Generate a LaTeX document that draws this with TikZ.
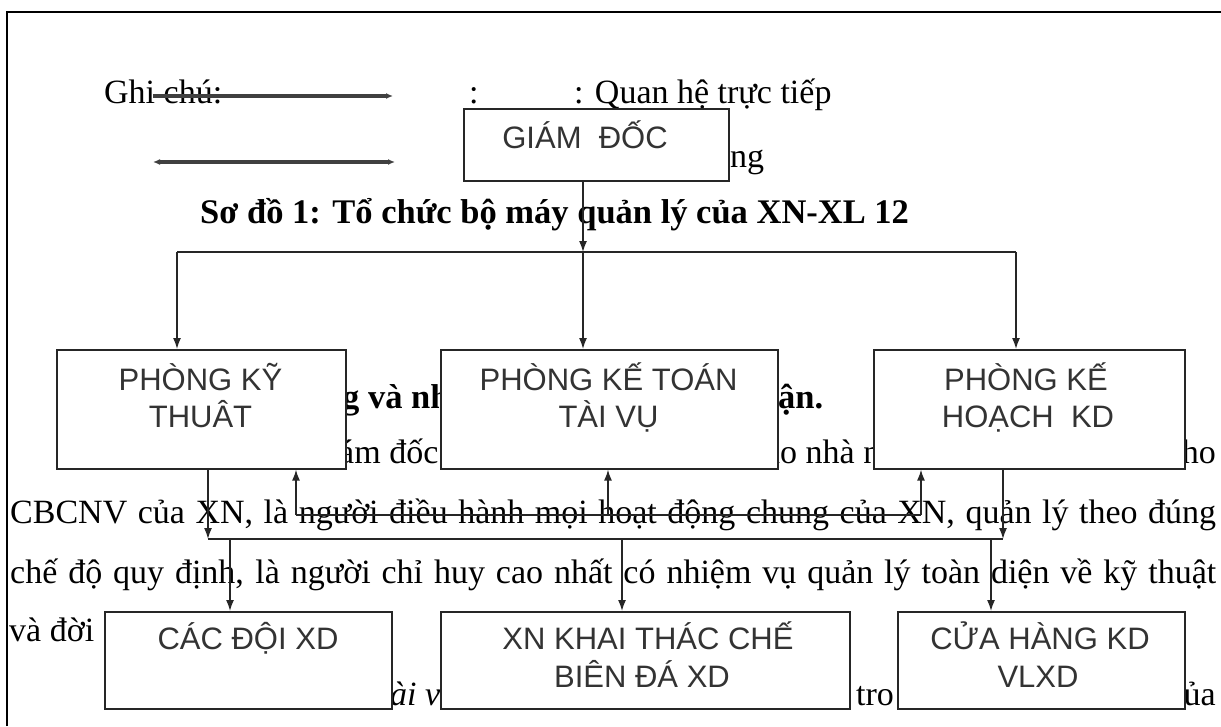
\documentclass[tikz,border=0pt]{standalone}
\usepackage{fontspec}
\setmainfont{Liberation Serif}
\newfontfamily\arialf{Liberation Sans}
\usetikzlibrary{arrows.meta,calc}
\begin{document}
\begin{tikzpicture}[x=1pt,y=-1pt,
  body/.style={font=\fontsize{34}{40}\selectfont, inner sep=0pt, anchor=base west},
  bodyb/.style={body, font=\fontsize{34.5}{40}\selectfont\bfseries},
  bodyi/.style={body, font=\fontsize{34}{40}\selectfont\itshape},
  box/.style={draw=black!85, line width=1.6pt, fill=white, inner sep=0pt, anchor=north west},
  btext/.style={font=\arialf\fontsize{31}{36}\selectfont, text=black!80, inner sep=0pt, anchor=base},
  conn/.style={draw=black!85, line width=1.5pt},
  arr/.style={conn, -{Latex[length=11pt,width=8pt]}},
  leg/.style={draw=black!75, line width=3.2pt},
  legtip/.tip={Latex[length=7pt,width=6pt]},
]
\useasboundingbox (0,0) rectangle (1221,726);
\fill[white] (0,0) rectangle (1221,726);

% frame
\coordinate (fbl) at (7,726);
\coordinate (ftl) at (7,12);
\coordinate (ftr) at (1221,12);
\draw[line width=1.6pt] (fbl) -- (ftl) -- (ftr);

% legend and title
\node[body] (ghichu) at (104,103) {Ghi chú:};
\node[body] (colon1) at (469,103) {:};
\node[body] (qh) at (574,103) {: Quan hệ trực tiếp};
\node[body] (ng) at (730,167) {ng};
\node[bodyb] (title) at (200,223) {Sơ đồ 1: Tổ chức bộ máy quản lý của XN-XL 12};

\coordinate (l1a) at (153,96); \coordinate (l1b) at (393,96);
\coordinate (l2a) at (153,162); \coordinate (l2b) at (395,162);
\draw[leg, -legtip] (l1a) -- (l1b);
\draw[leg, legtip-legtip] (l2a) -- (l2b);

% background text
\node[bodyb] (h1) at (342,408) {g và nh};
\node[bodyb] (h2) at (778,408) {ận.};
\node[body] (a1) at (339,463) {ám đốc};
\node[body] (a2) at (763,463) {ho nhà n};
\node[body, anchor=base east] (a3) at (1216,463) {ho};
\node[body] (p1) at (10,523) {\makebox[1206pt][s]{CBCNV của XN, là người điều hành mọi hoạt động chung của XN, quản lý theo đúng}};
\node[body] (p2) at (10,583) {\makebox[1206pt][s]{chế độ quy định, là người chỉ huy cao nhất có nhiệm vụ quản lý toàn diện về kỹ thuật}};
\node[body] (p3) at (9,641) {và đời};
\node[bodyi] (p4) at (390,705) {ài v};
\node[body] (p5) at (856,705) {tro};
\node[body, anchor=base east] (p6) at (1216,705) {ủa};

% boxes
\node[box, minimum width=265pt, minimum height=72pt] (gd) at (463,108) {};
\node[btext] (gdt) at (585,148) {GIÁM\ \ ĐỐC};

\node[box, minimum width=289pt, minimum height=119pt] (kt) at (56,349) {};
\node[btext] (kt1) at (200.5,390) {PHÒNG KỸ};
\node[btext] (kt2) at (200.5,427) {THUÂT};

\node[box, minimum width=337pt, minimum height=119pt] (ktv) at (440,349) {};
\node[btext] (ktv1) at (608.5,390) {PHÒNG KẾ TOÁN};
\node[btext] (ktv2) at (608.5,427) {TÀI VỤ};

\node[box, minimum width=311pt, minimum height=119pt] (kh) at (873,349) {};
\node[btext] (kh1) at (1026,390) {PHÒNG KẾ};
\node[btext] (kh2) at (1028,427) {HOẠCH\ \ KD};

\node[box, minimum width=287pt, minimum height=97pt] (dxd) at (104,611) {};
\node[btext] (dxd1) at (248,649) {CÁC ĐỘI XD};

\node[box, minimum width=409pt, minimum height=97pt] (xn) at (440,611) {};
\node[btext] (xn1) at (648,649) {XN KHAI THÁC CHẾ};
\node[btext] (xn2) at (642,687) {BIÊN ĐÁ XD};

\node[box, minimum width=287pt, minimum height=97pt] (ch) at (897,611) {};
\node[btext] (ch1) at (1040,649) {CỬA HÀNG KD};
\node[btext] (ch2) at (1038,687) {VLXD};

% top bus
\coordinate (bT) at (583,252);
\coordinate (bL) at (177,252);
\coordinate (bR) at (1016,252);
\draw[arr] (gd.south -| bT) -- (bT);
\draw[conn] (bL) -- (bR);
\draw[arr] (bL) -- (bL |- kt.north);
\draw[arr] (bT) -- (bT |- ktv.north);
\draw[arr] (bR) -- (bR |- kh.north);

% lower bus
\coordinate (lb1) at (208,539);
\coordinate (lb2) at (1003,539);
\draw[arr] (kt.south -| lb1) -- (lb1);
\draw[arr] (kh.south -| lb2) -- (lb2);
\draw[conn] (lb1) -- (lb2);
\coordinate (d1) at (230,539);
\coordinate (d2) at (622,539);
\coordinate (d3) at (991,539);
\draw[arr] (d1) -- (d1 |- dxd.north);
\draw[arr] (d2) -- (d2 |- xn.north);
\draw[arr] (d3) -- (d3 |- ch.north);

% upper (return) bus
\coordinate (ub1) at (296,515);
\coordinate (ub2) at (608,515);
\coordinate (ub3) at (921,515);
\draw[conn] (ub1) -- (ub3);
\draw[arr] (ub1) -- (ub1 |- kt.south);
\draw[arr] (ub2) -- (ub2 |- ktv.south);
\draw[arr] (ub3) -- (ub3 |- kh.south);
\end{tikzpicture}
\end{document}
